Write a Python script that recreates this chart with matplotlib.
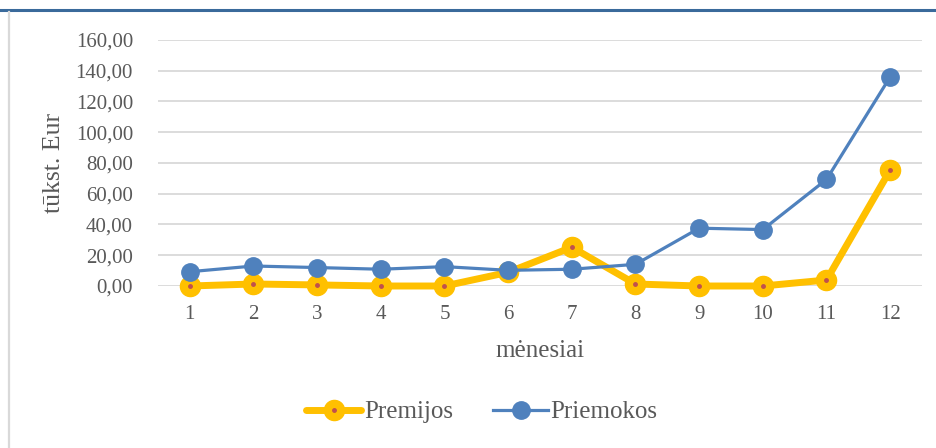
import matplotlib.pyplot as plt
from matplotlib.lines import Line2D

plt.rcParams['font.family'] = ['Liberation Serif', 'DejaVu Serif']

# duomenys (tūkst. Eur)
menesiai = [1, 2, 3, 4, 5, 6, 7, 8, 9, 10, 11, 12]
premijos = [0.0, 1.3, 0.7, 0.0, 0.0, 8.9, 25.2, 1.3, 0.0, 0.0, 3.9, 75.4]
priemokos = [9.3, 13.0, 12.0, 10.9, 12.6, 10.2, 10.9, 14.1, 37.6, 36.7, 69.3, 136.0]
yticks = [0, 20, 40, 60, 80, 100, 120, 140, 160]

geltona = '#FFC000'
melyna = '#4F81BD'
raudona = '#C0504D'
pilka = '#595959'

W, H = 937, 448
fig = plt.figure(figsize=(W / 100, H / 100), dpi=100)

# rėmelis: viršutinė mėlyna linija ir kairė pilka linija
fig.add_artist(Line2D([0, 1], [1 - 10 / H, 1 - 10 / H], color='#3A6A9B', lw=2.2))
fig.add_artist(Line2D([9 / W, 9 / W], [0, 1 - 12 / H], color='#D9D9D9', lw=1.6))

ax = fig.add_axes([158 / W, 162 / H, 764 / W, 246 / H])

l1, = ax.plot(menesiai, premijos, color=geltona, lw=5, marker='o', ms=14.5,
              mfc=geltona, mec=geltona, solid_capstyle='round', zorder=3,
              clip_on=False)
l1d, = ax.plot(menesiai, premijos, ls='none', marker='o', ms=2.5,
               mfc=raudona, mec=raudona, zorder=4, clip_on=False)
l2, = ax.plot(menesiai, priemokos, color=melyna, lw=2.3, marker='o', ms=12.5,
              mfc=melyna, mec=melyna, zorder=5, clip_on=False)

ax.set_xlim(0.5, 12.5)
ax.set_ylim(0, 160)
ax.set_xticks(menesiai)
ax.set_yticks(yticks)
ax.set_yticklabels([f'{v:.2f}'.replace('.', ',') for v in yticks])
ax.tick_params(length=0, labelsize=15, labelcolor=pilka)
ax.tick_params(axis='y', pad=18)
ax.tick_params(axis='x', pad=14)
for s in ax.spines.values():
    s.set_visible(False)
ax.grid(axis='y', color='#D9D9D9', lw=1.3)
ax.set_axisbelow(True)

ax.set_ylabel('tūkst. Eur', fontsize=18.5, color=pilka, labelpad=8)
ax.set_xlabel('mėnesiai', fontsize=18, color=pilka, labelpad=11)

fig.legend([(l1, l1d), l2], ['Premijos', 'Priemokos'], loc='center',
           bbox_to_anchor=(482 / W, 1 - 412 / H), ncol=2, frameon=False,
           fontsize=18, labelcolor=pilka, handlelength=2.2, handletextpad=0.1,
           columnspacing=1.6, numpoints=1)

fig.savefig('out.png', dpi=100)
